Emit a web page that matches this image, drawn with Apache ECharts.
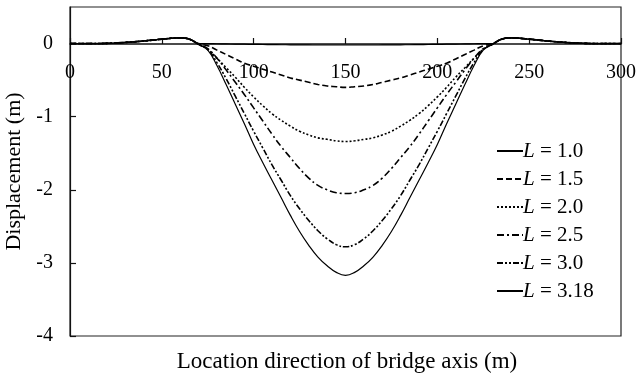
<!DOCTYPE html>
<html>
<head>
<meta charset="utf-8">
<script src="https://cdn.jsdelivr.net/npm/echarts@6/dist/echarts.min.js"></script>
<style>
  html, body { margin: 0; padding: 0; background: #fff; }
  #chart { width: 639px; height: 374px; }
</style>
</head>
<body>
<div id="chart"></div>
<script>
// location along bridge axis (m)
var xs = [0, 10, 20, 30, 40, 50, 55, 60, 65,
  70, 75, 80, 85, 90, 95, 100, 105, 110, 115, 120, 125, 130, 135, 140, 145, 150,
  155, 160, 165, 170, 175, 180, 185, 190, 195, 200, 205, 210, 215, 220, 225, 230,
  235, 240, 245, 250, 260, 270, 280, 290, 300];

var labels = ['1.0', '1.5', '2.0', '2.5', '3.0', '3.18'];

// displacement (m)
var dispL10 = [0, 0, 0.003, 0.015, 0.035, 0.06, 0.072, 0.078, 0.06,
  0, 0, -0.003, -0.005, -0.007, -0.009, -0.011, -0.013, -0.015, -0.016, -0.017, -0.018, -0.019, -0.02, -0.02, -0.02, -0.02,
  -0.02, -0.02, -0.02, -0.019, -0.018, -0.017, -0.016, -0.015, -0.013, -0.011, -0.009, -0.007, -0.005, -0.003, 0, 0,
  0.06, 0.078, 0.072, 0.06, 0.035, 0.015, 0.003, 0, 0];
var dispL15 = [0, 0, 0.003, 0.015, 0.035, 0.06, 0.072, 0.078, 0.06,
  0, -0.03, -0.09, -0.15, -0.21, -0.27, -0.31, -0.35, -0.39, -0.43, -0.47, -0.5, -0.53, -0.56, -0.58, -0.59, -0.6,
  -0.59, -0.58, -0.56, -0.53, -0.5, -0.47, -0.43, -0.39, -0.35, -0.31, -0.27, -0.21, -0.15, -0.09, -0.03, 0,
  0.06, 0.078, 0.072, 0.06, 0.035, 0.015, 0.003, 0, 0];
var dispL20 = [0, 0, 0.003, 0.015, 0.035, 0.06, 0.072, 0.078, 0.06,
  -0.01, -0.08, -0.2, -0.33, -0.46, -0.6, -0.73, -0.85, -0.96, -1.05, -1.13, -1.2, -1.25, -1.29, -1.31, -1.33, -1.34,
  -1.33, -1.31, -1.29, -1.25, -1.2, -1.13, -1.05, -0.96, -0.85, -0.73, -0.6, -0.46, -0.33, -0.2, -0.08, -0.01,
  0.06, 0.078, 0.072, 0.06, 0.035, 0.015, 0.003, 0, 0];
var dispL25 = [0, 0, 0.003, 0.015, 0.035, 0.06, 0.072, 0.078, 0.06,
  -0.01, -0.07, -0.2, -0.36, -0.53, -0.7, -0.88, -1.06, -1.24, -1.41, -1.56, -1.71, -1.84, -1.94, -2.0, -2.04, -2.05,
  -2.04, -2.0, -1.94, -1.84, -1.71, -1.56, -1.41, -1.24, -1.06, -0.88, -0.7, -0.53, -0.36, -0.2, -0.07, -0.01,
  0.06, 0.078, 0.072, 0.06, 0.035, 0.015, 0.003, 0, 0];
var dispL30 = [0, 0, 0.003, 0.015, 0.035, 0.06, 0.072, 0.078, 0.06,
  -0.01, -0.08, -0.26, -0.48, -0.72, -0.96, -1.2, -1.43, -1.66, -1.87, -2.08, -2.26, -2.42, -2.56, -2.67, -2.75, -2.78,
  -2.75, -2.67, -2.56, -2.42, -2.26, -2.08, -1.87, -1.66, -1.43, -1.2, -0.96, -0.72, -0.48, -0.26, -0.08, -0.01,
  0.06, 0.078, 0.072, 0.06, 0.035, 0.015, 0.003, 0, 0];
var dispL318 = [0, 0, 0.003, 0.015, 0.035, 0.06, 0.072, 0.078, 0.06,
  -0.01, -0.09, -0.3, -0.56, -0.83, -1.1, -1.38, -1.63, -1.87, -2.11, -2.35, -2.57, -2.76, -2.92, -3.04, -3.13, -3.17,
  -3.13, -3.04, -2.92, -2.76, -2.57, -2.35, -2.11, -1.87, -1.63, -1.38, -1.1, -0.83, -0.56, -0.3, -0.09, -0.01,
  0.06, 0.078, 0.072, 0.06, 0.035, 0.015, 0.003, 0, 0];

var xTicks = [0, 50, 100, 150, 200, 250, 300];
var yTicks = [-4, -3, -2, -1, 0];

var allDisp = [dispL10, dispL15, dispL20, dispL25, dispL30, dispL318];
var dashes = ['solid', [6, 3], [2, 2], [7, 3, 2, 3], [6, 2, 2, 2, 2, 2], 'solid'];
var widths = [1.2, 1.6, 1.6, 1.6, 1.6, 1.2];

var serif = 'Liberation Serif';

var chart = echarts.init(document.getElementById('chart'));

var series = labels.map(function(lab, i) {
  return {
    name: 'L = ' + lab,
    type: 'line',
    data: xs.map(function(x, j) { return [x, allDisp[i][j]]; }),
    showSymbol: false,
    symbol: 'none',
    smooth: 0.45,
    animation: false,
    lineStyle: { color: '#000', width: widths[i], type: dashes[i] },
    itemStyle: { color: '#000' }
  };
});

var option = {
  backgroundColor: '#fff',
  animation: false,
  title: {
    text: 'Location direction of bridge axis (m)',
    left: 342,
    top: 345,
    textAlign: 'center',
    textStyle: { fontFamily: serif, fontSize: 23, fontWeight: 'normal', color: '#000' }
  },
  grid: {
    left: 70, right: 18, top: 7, bottom: 38,
    outerBoundsMode: 'none',
    show: true, borderColor: '#222', borderWidth: 1.2, backgroundColor: 'transparent'
  },
  legend: {
    orient: 'vertical',
    left: 491,
    top: 135,
    itemWidth: 26,
    itemHeight: 14,
    itemGap: 6,
    itemStyle: { opacity: 0 },
    data: series.map(function(s) { return s.name; }),
    formatter: function(name) { return name.replace('L', '{i|L}'); },
    textStyle: {
      fontFamily: serif, fontSize: 21, color: '#000', lineHeight: 22, padding: [0, 0, 0, -5],
      rich: { i: { fontFamily: serif, fontSize: 21, fontStyle: 'italic', color: '#000' } }
    }
  },
  xAxis: {
    type: 'value',
    min: 0, max: 300, interval: 50,
    offset: -292,
    axisLine: { onZero: false, lineStyle: { color: '#111', width: 1.6 } },
    axisTick: { inside: true, length: 6, lineStyle: { color: '#111', width: 1.2 } },
    axisLabel: {
      margin: 19, fontFamily: serif, fontSize: 20, color: '#000',
      formatter: function(v) { return xTicks.indexOf(v) >= 0 ? String(v) : ''; }
    },
    splitLine: { show: false }
  },
  yAxis: {
    type: 'value',
    min: -4, max: 0.5, interval: 1,
    name: 'Displacement (m)',
    nameLocation: 'middle',
    nameGap: 34,
    nameTextStyle: { fontFamily: serif, fontSize: 22, color: '#000' },
    axisLine: { lineStyle: { color: '#111', width: 1.2 } },
    axisTick: { inside: true, length: 6, lineStyle: { color: '#111', width: 1.2 } },
    axisLabel: {
      margin: 17, fontFamily: serif, fontSize: 20, color: '#000',
      showMaxLabel: false,
      formatter: function(v) { return yTicks.indexOf(v) >= 0 ? String(v) : ''; }
    },
    splitLine: { show: false }
  },
  series: series
};

chart.setOption(option);
</script>
</body>
</html>
